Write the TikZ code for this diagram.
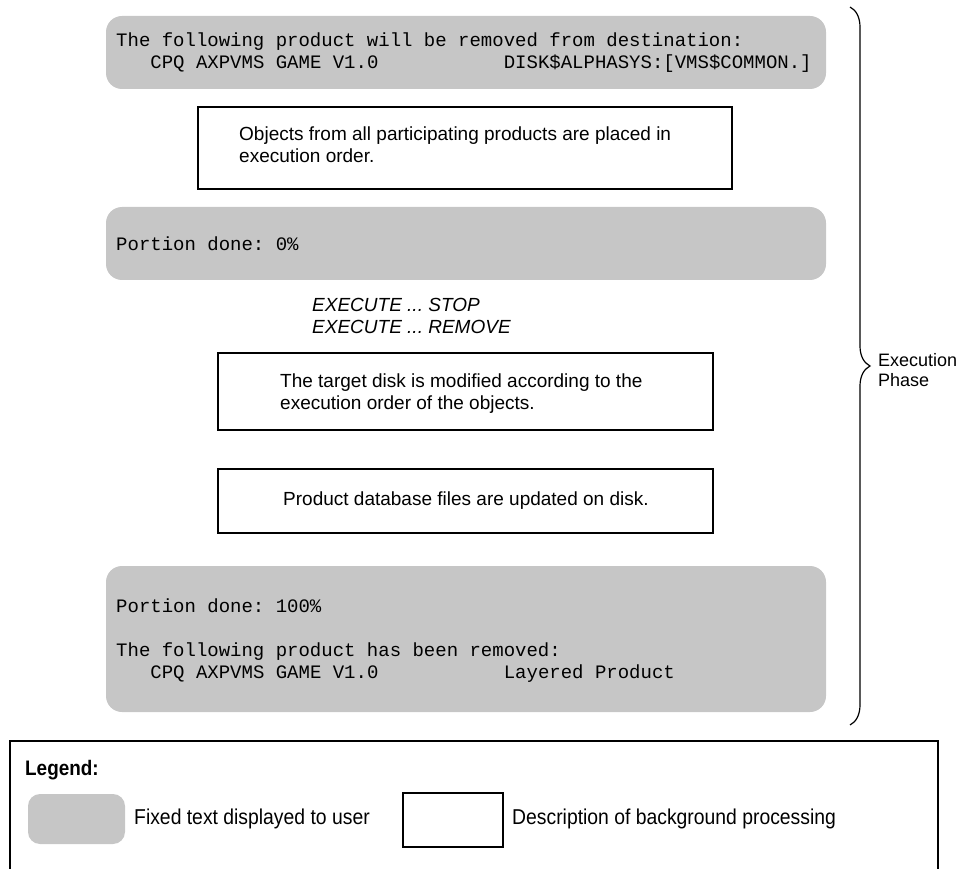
\documentclass[tikz,border=0pt]{standalone}
\usepackage{fontspec}
\setmainfont{Liberation Sans}
\newfontfamily\monofont{Liberation Mono}
\newfontfamily\narrowfont{Liberation Sans}[FakeStretch=0.9]
\usetikzlibrary{decorations.pathreplacing}
\definecolor{usrgray}{HTML}{C6C6C6}
\newcommand{\msp}[1]{\hspace*{#1\dimexpr0.6em\relax}}
\frenchspacing

\begin{document}
\begin{tikzpicture}[x=1pt, y=-1pt,
    usrbox/.style={fill=usrgray, draw=none, rounded corners=16pt},
    procbox/.style={draw, line width=1.2pt},
    montxt/.style={anchor=west, inner sep=0pt, align=left,
      font=\monofont\fontsize{19}{22}\selectfont},
    sanstxt/.style={anchor=west, inner sep=0pt, align=left,
      font=\fontsize{19}{22}\selectfont},
    legtxt/.style={anchor=west, inner sep=0pt,
      font=\narrowfont\fontsize{21.5}{24}\selectfont}]
    \useasboundingbox (0,0) rectangle (962,869);

    % user text, top
    \fill[usrbox] (106,16) rectangle (826,89);
    \node[montxt] (usrtop) at (116,52.5) {The following product will be removed from destination:\\
      \msp{3}CPQ AXPVMS GAME V1.0\msp{11}DISK\$ALPHASYS:[VMS\$COMMON.]};

    \draw[procbox] (198,107) rectangle (732,189);
    \node[sanstxt] (procorder) at (239,145) {Objects from all participating products are placed in\\
      execution order.};

    \fill[usrbox] (106,207) rectangle (826,280);
    \node[montxt] (usrzero) at (116,244) {Portion done: 0\%};

    \node[sanstxt, font=\itshape\fontsize{19}{22}\selectfont] (execcmds) at (312,316)
      {EXECUTE ... STOP\\EXECUTE ... REMOVE};

    \draw[procbox] (218,353) rectangle (713,430);
    \node[sanstxt] (procdisk) at (280,394) {The target disk is modified according to the\\
      execution order of the objects.};

    \draw[procbox] (218,469) rectangle (713,533);
    \node[sanstxt] (procdb) at (283,501) {Product database files are updated on disk.};

    % user text, bottom
    \fill[usrbox] (106,566) rectangle (826,712);
    \node[montxt] (usrdone) at (116,641) {Portion done: 100\%\\[22pt]
      The following product has been removed:\\
      \msp{3}CPQ AXPVMS GAME V1.0\msp{11}Layered Product};

    % phase brace
    \coordinate (bracetop) at (850,7);
    \coordinate (bracebot) at (850,725);
    \draw[line width=1.2pt, decorate, decoration={brace, amplitude=20pt}] (bracetop) -- (bracebot);
    \node[anchor=west, inner sep=0pt, align=left, font=\fontsize{18}{20}\selectfont]
      (phase) at (878,370) {Execution\\Phase};

    % legend
    \draw[line width=1.3pt] (10,869) -- (10,741) -- (938,741) -- (938,869);
    \node[legtxt, font=\narrowfont\bfseries\fontsize{21}{24}\selectfont] (legtitle) at (25,770) {Legend:};
    \fill[usrbox, rounded corners=12pt] (28,794) rectangle (125,844);
    \node[legtxt] (legusr) at (134,819) {Fixed text displayed to user};
    \draw[procbox] (403,793) rectangle (503,847);
    \node[legtxt] (legproc) at (512,819) {Description of background processing};
  \end{tikzpicture}
\end{document}
